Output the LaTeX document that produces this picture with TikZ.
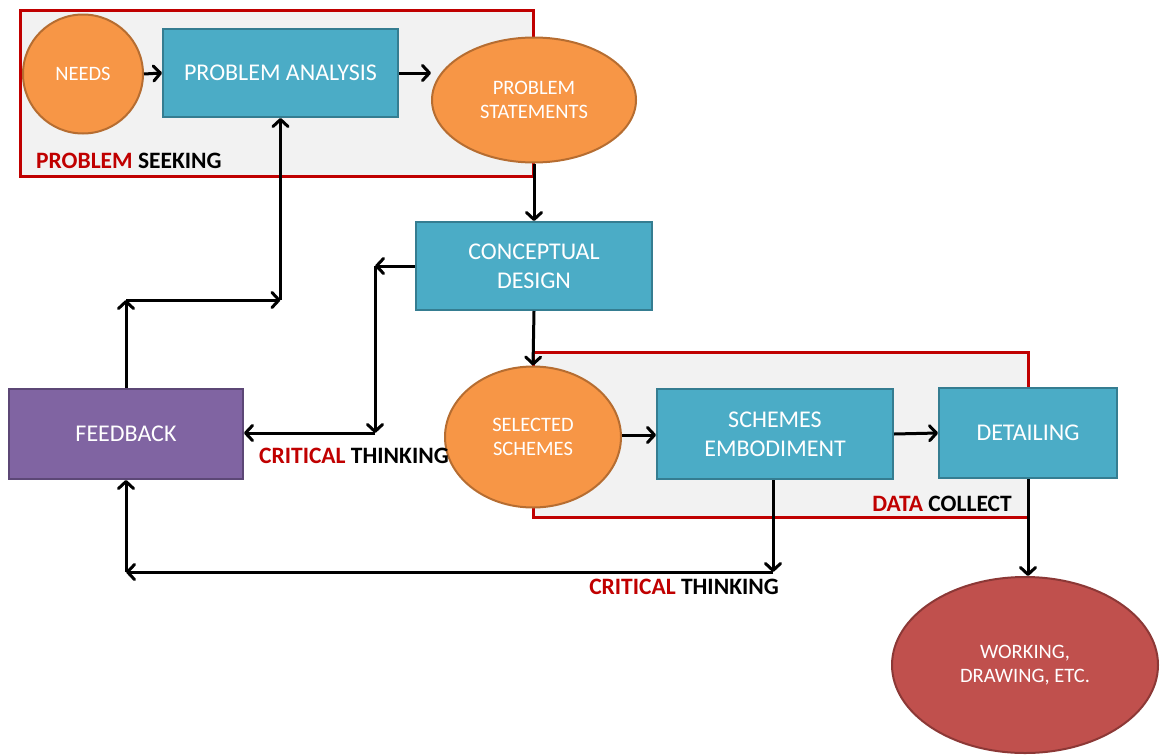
\documentclass[tikz,border=0pt]{standalone}
\usepackage{fontspec}
\setmainfont{Carlito}
\usetikzlibrary{shapes.geometric,arrows,arrows.meta,positioning}

\definecolor{blueblock}{HTML}{4BACC6}
\definecolor{blueline}{HTML}{357D91}
\definecolor{orangeblock}{HTML}{F79646}
\definecolor{orangeline}{HTML}{B66D31}
\definecolor{purpleblock}{HTML}{8064A2}
\definecolor{purpleline}{HTML}{5C4776}
\definecolor{redblock}{HTML}{C0504D}
\definecolor{redline}{HTML}{8C3836}
\definecolor{framered}{HTML}{C00000}
\definecolor{framegray}{HTML}{F2F2F2}

\begin{document}
\begin{tikzpicture}[x=1pt,y=-1pt]

  \tikzstyle{block} = [draw=blueline, fill=blueblock, rectangle, line width=2pt, inner sep=0pt, text=white, align=center, font=\fontsize{24}{29}\selectfont]
  \tikzstyle{oval} = [draw=orangeline, fill=orangeblock, ellipse, line width=2pt, inner sep=0pt, text=white, align=center, font=\fontsize{20.5}{24}\selectfont]
  \tikzstyle{frame} = [draw=framered, fill=framegray, line width=3pt]
  \tikzstyle{tag} = [inner sep=0pt, font=\bfseries\fontsize{23.5}{27}\selectfont]
  \tikzstyle{link} = [-{Straight Barb[length=7pt,width=15pt,round]}, color=black, line width=3pt]

  \useasboundingbox (0,0) rectangle (1161,755);

  % frames
  \draw[frame] (20,10) rectangle (533,176);
  \draw[frame] (533,352) rectangle (1028,517);

  % blocks
  \node[oval, minimum width=120pt, minimum height=119pt] (needs) at (83,74) {NEEDS};
  \node[block, minimum width=235pt, minimum height=88pt] (analysis) at (280.5,73) {PROBLEM ANALYSIS};
  \node[oval, minimum width=204pt, minimum height=125pt] (statements) at (534,100) {PROBLEM\\STATEMENTS};
  \node[block, minimum width=236pt, minimum height=88pt] (concept) at (534,266) {CONCEPTUAL\\DESIGN};
  \node[oval, minimum width=176pt, minimum height=141pt] (selected) at (533,437) {SELECTED\\SCHEMES};
  \node[block, minimum width=236pt, minimum height=90pt] (embodiment) at (775,434) {SCHEMES\\EMBODIMENT};
  \node[block, minimum width=178pt, minimum height=90pt] (detailing) at (1028,433) {DETAILING};
  \node[block, draw=purpleline, fill=purpleblock, minimum width=234pt, minimum height=90pt] (feedback) at (126,434) {FEEDBACK};
  \node[oval, draw=redline, fill=redblock, minimum width=266pt, minimum height=176pt] (working) at (1025,665) {WORKING,\\DRAWING, ETC.};

  % labels
  \node[tag, anchor=west] (seeking) at (36,161) {\textcolor{framered}{PROBLEM} SEEKING};
  \node[tag, anchor=west] (critical1) at (259,456) {\textcolor{framered}{CRITICAL} THINKING};
  \node[tag, anchor=east] (collect) at (1012,504) {\textcolor{framered}{DATA} COLLECT};
  \node[tag, anchor=east] (critical2) at (779,587) {\textcolor{framered}{CRITICAL} THINKING};

  % corners
  \coordinate (c1) at (375,266);
  \coordinate (c2) at (375,433);
  \coordinate (c3) at (126,300);
  \coordinate (c4) at (280.5,300);
  \coordinate (c5) at (773,572);
  \coordinate (c6) at (126,572);

  \draw[link] (needs.east) -- (analysis.west);
  \draw[link] (analysis.east) -- (analysis.east -| statements.west);
  \draw[link] (statements.south) -- (concept.north);
  \draw[link] (concept.south) -- (selected.north);
  \draw[link] (concept.west) -- (c1);
  \draw[link] (c1) -- (c2);
  \draw[link] (c2) -- (c2 -| feedback.east);
  \draw[link] (feedback.north) -- (c3);
  \draw[link] (c3) -- (c4);
  \draw[link] (c4) -- (analysis.south);
  \draw[link] (selected.east |- 0,435) -- (embodiment.west |- 0,435);
  \draw[link] (embodiment.east) -- (detailing.west);
  \draw[link] (c5 |- embodiment.south) -- (c5);
  \draw[link] (c5) -- (c6);
  \draw[link] (c6) -- (feedback.south);
  \draw[link] (detailing.south) -- (detailing.south |- working.north);

\end{tikzpicture}
\end{document}
